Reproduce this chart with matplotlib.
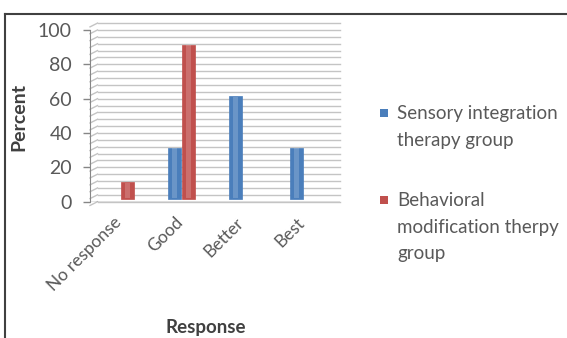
import numpy as np
import matplotlib.pyplot as plt
import matplotlib.transforms as mtransforms
from matplotlib.lines import Line2D
from matplotlib.patches import Rectangle

plt.rcParams['font.family'] = ['Lato', 'DejaVu Sans']

categories = ["No response", "Good", "Better", "Best"]
sensory = [0, 30, 60, 30]
behavioral = [10, 90, 0, 0]
series_names = ["Sensory integration\ntherapy group",
                "Behavioral\nmodification therpy\ngroup"]

blue = '#4a7ebb'
red = '#c0504d'
text_gray = '#595959'

fig = plt.figure(figsize=(5.67, 3.38), dpi=100)
ax = fig.add_axes([90/567, (338-201.7)/338, 250/567, 178.6/338])
ax.set_xlim(-0.5, 3.6)
ax.set_ylim(0, 104)

# back wall gridlines with a short slanted stub for the side wall
trans = ax.get_yaxis_transform()
for v in np.arange(0, 105, 4):
    ax.plot([0.03, 1.0], [v, v], transform=trans, color='#c4c4c4', lw=1.0,
            clip_on=False, zorder=1)
    ax.plot([0.0, 0.03], [v - 2.2, v], transform=trans, color='#c4c4c4', lw=1.0,
            clip_on=False, zorder=1)

x = np.arange(len(categories))
w = 0.22
off = 0.115

def draw_bars(xpos, vals, color):
    for xi, v in zip(xpos, vals):
        if v <= 0:
            continue
        ax.bar(xi, v, width=w, bottom=1.5, color=color, edgecolor=color,
               linewidth=0.5, zorder=3)
        ax.bar(xi, v - 1, width=w * 0.35, bottom=2.0, color='white', alpha=0.18,
               linewidth=0, zorder=4)

draw_bars(x - off, sensory, blue)
draw_bars(x + off, behavioral, red)

for s in ['top', 'right', 'bottom']:
    ax.spines[s].set_visible(False)
ax.spines['left'].set_color('#868686')
ax.spines['left'].set_bounds(0, 100)
ax.axhline(0, color='#868686', lw=1.0, zorder=2)

ax.set_yticks(np.arange(0, 101, 20))
ax.tick_params(axis='y', colors='#868686', labelcolor=text_gray, labelsize=14,
               length=5, width=1.0, direction='out', pad=8)
ax.set_xticks(x)
ax.set_xticklabels(categories, rotation=45, ha='right', rotation_mode='anchor',
                   fontsize=12.5, color=text_gray)
ax.tick_params(axis='x', length=0, pad=9)
shift = mtransforms.ScaledTranslation(-7/100, 0, fig.dpi_scale_trans)
for lab in ax.get_xticklabels():
    lab.set_transform(lab.get_transform() + shift)

fig.text(19/567, 1 - 117/338, 'Percent', rotation=90, ha='center', va='center',
         fontsize=14, fontweight='bold', color='#404040')
fig.text(206/567, 1 - 327/338, 'Response', ha='center', va='center',
         fontsize=13.5, fontweight='bold', color='#404040')

# legend drawn by hand for the wider line spacing
for name, color, ymid in zip(series_names, [blue, red], [113, 200]):
    fig.add_artist(Rectangle((380/567, 1 - (ymid + 4)/338), 8/567, 8/338,
                             facecolor=color, edgecolor='none',
                             transform=fig.transFigure))
    fig.text(397/567, 1 - (ymid - 8)/338, name, ha='left', va='top',
             fontsize=13.5, color=text_gray, linespacing=1.68)

# outer chart border (top and left edges)
fig.add_artist(Line2D([5/567, 1.0], [1 - 14/338, 1 - 14/338], color='#404040', lw=1.5))
fig.add_artist(Line2D([5/567, 5/567], [0, 1 - 14/338], color='#404040', lw=1.5))

fig.savefig('out.png', dpi=100)
